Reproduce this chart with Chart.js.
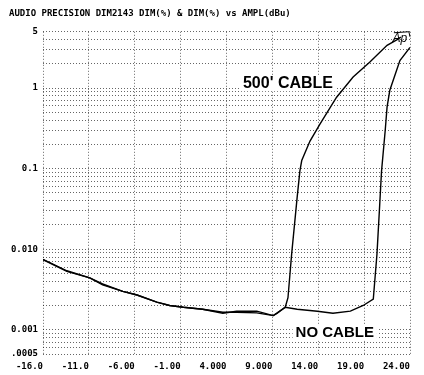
<!DOCTYPE html>
<html>
<head>
<meta charset="utf-8">
<script src="https://cdn.jsdelivr.net/npm/chart.js@4/dist/chart.umd.min.js"></script>
<style>
  html, body { margin: 0; padding: 0; background: #fff; }
  #wrap { width: 424px; height: 375px; }
</style>
</head>
<body>
<div id="wrap"><canvas id="chart"></canvas></div>
<script>
const TITLE = 'AUDIO PRECISION DIM2143 DIM(%) & DIM(%) vs AMPL(dBu)'

// amplitude axis, dBu
const xTickValues = [-16, -11, -6, -1, 4, 9, 14, 19, 24]
const xTickLabels = ['-16.0', '-11.0', '-6.00', '-1.00', '4.000', '9.000', '14.00', '19.00', '24.00']

// DIM axis, %
const yTickValues = [0.0005, 0.001, 0.01, 0.1, 1, 5]
const yTickLabels = ['.0005', '0.001', '0.010', '0.1', '1', '5']

// 500 ft cable sweep
const cableAmpl = [-16, -13.4, -10.9, -9.5, -7.3, -5.75, -3.6, -2.2, -0.7, 1.4, 3.6, 5.1, 7.3, 9.1,
  10.4, 10.7, 11.1, 11.7, 12.0, 12.2, 13.1, 14.2, 16.0, 17.8, 19.6, 21.5, 22.6, 23.0]
const cableDim = [0.0074, 0.0053, 0.0044, 0.0036, 0.0030, 0.0027, 0.0022, 0.0020, 0.0019, 0.0018, 0.0016, 0.0017, 0.0017, 0.0015,
  0.0019, 0.0025, 0.0087, 0.044, 0.094, 0.126, 0.22, 0.36, 0.77, 1.37, 2.1, 3.4, 4.0, 4.3]

// no cable sweep
const directAmpl = [-16, -13.4, -10.9, -9.5, -7.3, -5.75, -3.6, -2.2, -0.7, 1.4, 3.6, 5.1, 7.3, 9.1,
  9.5, 10.4, 11.7, 13.9, 15.6, 17.5, 18.9, 20.0, 20.4, 20.7, 20.9, 21.3, 21.5, 21.8, 22.9, 24.0]
const directDim = [0.0075, 0.0054, 0.0044, 0.0037, 0.0030, 0.0027, 0.0022, 0.0020, 0.0019, 0.0018, 0.00165, 0.00165, 0.00162, 0.0015,
  0.0016, 0.0019, 0.0018, 0.0017, 0.0016, 0.0017, 0.0020, 0.0024, 0.0087, 0.036, 0.094, 0.3, 0.58, 0.94, 2.2, 3.2]

const zip = (xs, ys) => xs.map((x, i) => ({ x, y: ys[i] }))

// every 1..9 step of each decade gets a grid line
function logGrid(min, max) {
  const out = []
  for (let d = -4; d <= 0; d++) {
    for (let m = 1; m <= 9; m++) {
      const v = +(m * Math.pow(10, d)).toPrecision(3)
      if (v >= min - 1e-12 && v <= max + 1e-12) out.push(v)
    }
  }
  return out
}

const MONO = { family: '"DejaVu Sans Mono", "Liberation Mono", monospace', size: 9, weight: 'bold' }
const GRID = { color: 'rgba(0,0,0,0.6)', lineWidth: 1, drawTicks: false }
const DOTS = { display: false, dash: [1, 2] }

function label(ctx, text, px, py, font) {
  ctx.font = font
  const w = ctx.measureText(text).width
  ctx.fillStyle = '#fff'
  ctx.fillRect(px - w / 2 - 3, py - 8, w + 6, 16)
  ctx.fillStyle = '#000'
  ctx.fillText(text, px, py)
}

const annotations = {
  id: 'annotations',
  afterDatasetsDraw(chart) {
    const { ctx, scales: { x, y } } = chart
    ctx.save()
    ctx.textAlign = 'center'
    ctx.textBaseline = 'middle'
    label(ctx, "500' CABLE", x.getPixelForValue(10.7), y.getPixelForValue(1.15), 'bold 16px "Liberation Sans", Arial, sans-serif')
    label(ctx, 'NO CABLE', x.getPixelForValue(15.8), y.getPixelForValue(0.00092), 'bold 15px "Liberation Sans", Arial, sans-serif')

    // Ap badge
    const ax = x.getPixelForValue(22.9), ay = y.getPixelForValue(4.1)
    ctx.font = 'italic 12px "Liberation Sans", Arial, sans-serif'
    ctx.fillStyle = '#000'
    ctx.fillText('Ap', ax, ay)
    ctx.lineWidth = 1
    ctx.beginPath()
    ctx.moveTo(ax - 6, ay - 6)
    ctx.lineTo(ax + 9, ay - 7)
    ctx.lineTo(ax + 10, ay - 2)
    ctx.stroke()
    ctx.restore()
  }
}

new Chart('chart', {
  type: 'line',
  data: {
    datasets: [{
      label: "500' cable",
      data: zip(cableAmpl, cableDim),
      borderColor: '#000',
      borderWidth: 1.4,
      pointRadius: 0,
      tension: 0
    }, {
      label: 'no cable',
      data: zip(directAmpl, directDim),
      borderColor: '#000',
      borderWidth: 1.4,
      pointRadius: 0,
      tension: 0
    }]
  },
  options: {
    responsive: true,
    maintainAspectRatio: false,
    animation: false,
    events: [],
    layout: { padding: { left: 9, right: 14, top: 0, bottom: 0 } },
    plugins: {
      legend: { display: false },
      tooltip: { enabled: false },
      title: {
        display: true,
        text: TITLE,
        align: 'start',
        color: '#000',
        font: { family: MONO.family, size: 9, weight: 'bold' },
        padding: { top: 8, bottom: 13 }
      }
    },
    scales: {
      x: {
        type: 'linear',
        min: -16,
        max: 24,
        afterBuildTicks: (axis) => { axis.ticks = xTickValues.map(v => ({ value: v })) },
        afterFit: (axis) => { axis.height = 21 },
        grid: GRID,
        border: DOTS,
        ticks: {
          autoSkip: false,
          maxRotation: 0,
          align: 'end',
          padding: 7,
          color: '#000',
          font: MONO,
          callback: (v) => xTickLabels[xTickValues.indexOf(v)] ?? ''
        }
      },
      y: {
        type: 'logarithmic',
        min: 0.0005,
        max: 5,
        afterBuildTicks: (axis) => { axis.ticks = logGrid(0.0005, 5).map(v => ({ value: v })) },
        afterFit: (axis) => { axis.width = 34 },
        grid: GRID,
        border: DOTS,
        ticks: {
          autoSkip: false,
          padding: 5,
          color: '#000',
          font: MONO,
          callback: (v) => {
            const i = yTickValues.findIndex(t => Math.abs(t - v) < t * 1e-6)
            return i < 0 ? '' : yTickLabels[i]
          }
        }
      }
    }
  },
  plugins: [annotations]
})
</script>
</body>
</html>
